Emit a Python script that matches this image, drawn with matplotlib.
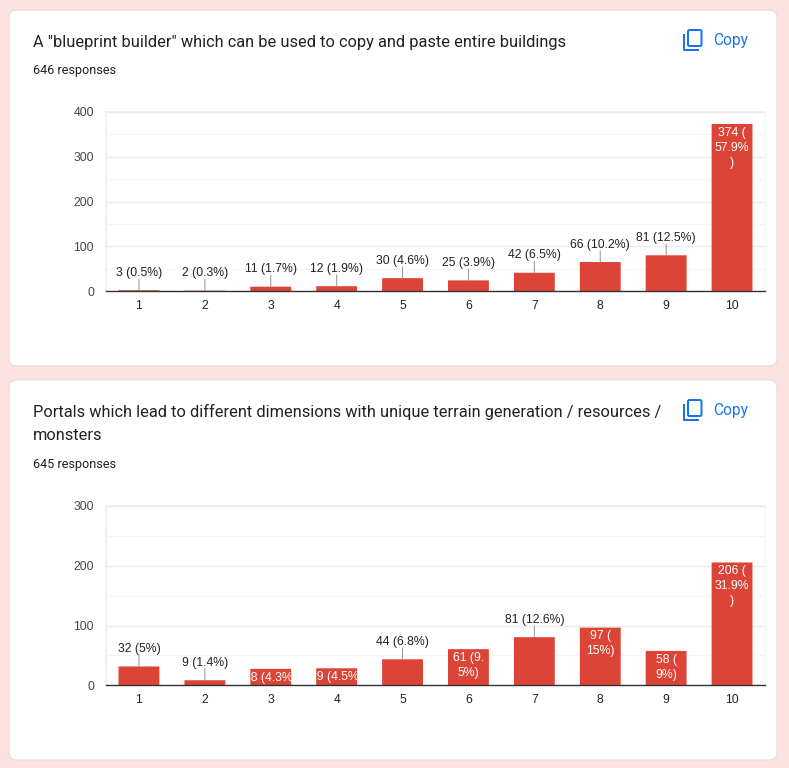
from matplotlib import pyplot as plt
from matplotlib.patches import FancyBboxPatch
from matplotlib.transforms import ScaledTranslation

categories = [1, 2, 3, 4, 5, 6, 7, 8, 9, 10]

title1 = ['A "blueprint builder" which can be used to copy and paste entire buildings']
responses1 = '646 responses'
values1 = [3, 2, 11, 12, 30, 25, 42, 66, 81, 374]
labels1 = ['3 (0.5%)', '2 (0.3%)', '11 (1.7%)', '12 (1.9%)', '30 (4.6%)',
           '25 (3.9%)', '42 (6.5%)', '66 (10.2%)', '81 (12.5%)', '374 (\n57.9%\n)']
yticks1 = [0, 100, 200, 300, 400]

title2 = ['Portals which lead to different dimensions with unique terrain generation / resources /',
          'monsters']
responses2 = '645 responses'
values2 = [32, 9, 28, 29, 44, 61, 81, 97, 58, 206]
labels2 = ['32 (5%)', '9 (1.4%)', '28 (4.3%)', '29 (4.5%)', '44 (6.8%)',
           '61 (9.\n5%)', '81 (12.6%)', '97 (\n15%)', '58 (\n9%)', '206 (\n31.9%\n)']
yticks2 = [0, 100, 200, 300]

W, H = 789, 768
PX = 0.72  # points per pixel at dpi 100
RED = '#dc4437'
BLUE = '#1a73e8'

plt.rcParams['font.family'] = ['Liberation Sans', 'DejaVu Sans']

fig = plt.figure(figsize=(W / 100, H / 100), dpi=100, facecolor='#fbe1df')

# фон в пикселях: карточки и иконки
bg = fig.add_axes([0, 0, 1, 1], zorder=0)
bg.set_xlim(0, W)
bg.set_ylim(H, 0)
bg.axis('off')


def draw_card(top, bottom, title, responses, resp_y):
    bg.add_patch(FancyBboxPatch((9, top), 768, bottom - top,
                                boxstyle='round,pad=0,rounding_size=8',
                                facecolor='white', edgecolor='#e3dcdc', linewidth=0.8))
    for i, line in enumerate(title):
        bg.text(33, top + 32 + 24 * i, line, fontsize=16.35 * PX, family='Roboto',
                color='#202124', va='center')
    bg.text(33, resp_y, responses, fontsize=12.6 * PX, family='Roboto', color='#202124',
            va='center')
    # иконка Copy
    y = top + 20
    bg.add_patch(FancyBboxPatch((688, y), 13.5, 16, boxstyle='round,pad=0,rounding_size=1.5',
                                facecolor='none', edgecolor=BLUE, linewidth=2 * PX))
    bg.plot([684, 684, 699], [y + 4, y + 20, y + 20], color=BLUE, lw=2 * PX,
            solid_capstyle='butt', solid_joinstyle='round')
    bg.text(713.5, top + 30, 'Copy', fontsize=15.5 * PX, family='Roboto', color=BLUE,
            va='center')


def draw_chart(top, values, labels, yticks, inside):
    bottom = top + 179.3
    ax = fig.add_axes([106 / W, 1 - bottom / H, 659 / W, 179.3 / H], zorder=1)
    ax.patch.set_alpha(0)
    ax.set_xlim(0.5, 10.5)
    ax.set_ylim(0, yticks[-1])

    ax.set_axisbelow(True)
    ax.set_yticks(yticks)
    ax.set_yticks([t + 50 for t in yticks[:-1]], minor=True)
    ax.grid(axis='y', which='major', color='#ebebeb', linewidth=1.0)
    ax.grid(axis='y', which='minor', color='#f5f5f5', linewidth=1.0)

    bars = ax.bar(categories, values, width=0.62, color=RED, zorder=2)
    # столбцы в оригинале чуть ниже сетки, маленькие видны бледной полоской
    down = ScaledTranslation(0, -0.3 / 100, fig.dpi_scale_trans)
    for bar in bars:
        bar.set_transform(ax.transData + down)
        bar.set_snap(False)

    for x, v, text, bar in zip(categories, values, labels, bars):
        if x in inside:
            for i, line in enumerate(text.split('\n')):
                t = ax.annotate(line, xy=(x, v), xytext=(0, (-9 - 15 * i) * PX),
                                textcoords='offset points', ha='center', va='center',
                                fontsize=12.3 * PX, color='white', zorder=3)
                t.set_clip_path(bar)
        else:
            ax.annotate('', xy=(x, v), xytext=(0, 11 * PX), textcoords='offset points',
                        arrowprops=dict(arrowstyle='-', color='#999999', lw=0.75,
                                        shrinkA=0, shrinkB=0), zorder=1.5)
            ax.annotate(text, xy=(x, v), xytext=(0, 17 * PX), textcoords='offset points',
                        ha='center', va='center', fontsize=12.3 * PX, color='#222222',
                        zorder=3)

    ax.set_xticks(categories)
    ax.tick_params(axis='both', which='both', length=0)
    ax.tick_params(axis='x', pad=8.5 * PX, labelsize=12.3 * PX, labelcolor='#222222')
    ax.tick_params(axis='y', pad=12 * PX, labelsize=12.3 * PX, labelcolor='#444444')

    ax.spines['bottom'].set_color('#333333')
    ax.spines['bottom'].set_linewidth(1.0)
    ax.spines['bottom'].set_zorder(4)
    ax.spines['top'].set_color('#eeeeee')
    ax.spines['top'].set_linewidth(1.2)
    ax.spines['left'].set_color('#eeeeee')
    ax.spines['left'].set_linewidth(1.2)
    ax.spines['right'].set_color('#f5f5f5')
    ax.spines['right'].set_linewidth(0.8)


draw_card(10, 366, title1, responses1, 70.5)
draw_card(380, 760, title2, responses2, 464.5)
draw_chart(112, values1, labels1, yticks1, [10])
draw_chart(506, values2, labels2, yticks2, [3, 4, 6, 8, 9, 10])

fig.savefig('out.png', dpi=100, facecolor=fig.get_facecolor())
